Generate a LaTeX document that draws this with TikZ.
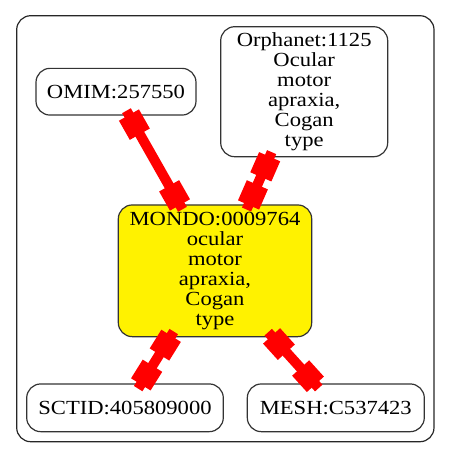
\documentclass[tikz,border=0pt]{standalone}
\usepackage{fontspec}
\setmainfont{Liberation Serif}[FakeStretch=1.13]
\usetikzlibrary{calc}
\tikzset{
  ent/.style={draw=black!80, line width=1.2pt, rounded corners=14pt, inner sep=0pt, outer sep=0pt,
    align=center, font=\fontsize{20}{20}\selectfont},
  conn/.style={draw=red, line width=10pt},
  endbox/.style={fill=red, draw=none, rectangle, inner sep=0pt, minimum width=22pt, minimum height=23pt, sloped, allow upside down}
}
\begin{document}
\begin{tikzpicture}[x=1pt,y=-1pt]
\useasboundingbox (0,0) rectangle (451,459);
\draw[black!85, line width=1.2pt, rounded corners=14pt] (16.7,15.7) rectangle (434,441.7);
\node[ent, minimum width=160pt, minimum height=46.7pt] (omim) at (116,91.7) {OMIM:257550};
\node[ent, minimum width=167pt, minimum height=130pt] (orph) at (304.2,91.7) {Orphanet:1125\\Ocular\\motor\\apraxia,\\Cogan\\type};
\node[ent, fill=yellow, minimum width=193.4pt, minimum height=131.7pt] (mondo) at (215,270.8) {MONDO:0009764\\ocular\\motor\\apraxia,\\Cogan\\type};
\node[ent, minimum width=196.6pt, minimum height=47.7pt] (sctid) at (125,407.8) {SCTID:405809000};
\node[ent, minimum width=177pt, minimum height=47.7pt] (mesh) at (335.8,407.8) {MESH:C537423};
\draw[conn] ($(omim.299.9)!-5pt!(mondo.118.8)$) -- ($(mondo.118.8)!-5pt!(omim.299.9)$)
  node[endbox, at start, anchor=west] (b1a) {} node[endbox, at end, anchor=east] (b1b) {};
\draw[conn] ($(orph.242.9)!-5pt!(mondo.63.5)$) -- ($(mondo.63.5)!-5pt!(orph.242.9)$)
  node[endbox, at start, anchor=west] (b2a) {} node[endbox, at end, anchor=east] (b2b) {};
\draw[conn] ($(mondo.236.7)!-6pt!(sctid.56.7)$) -- ($(sctid.56.7)!-5.5pt!(mondo.236.7)$)
  node[endbox, at start, anchor=west] (b3a) {} node[endbox, at end, anchor=east] (b3b) {};
\draw[conn] ($(mondo.311.5)!-6pt!(mesh.131.5)$) -- ($(mesh.131.5)!-5.5pt!(mondo.311.5)$)
  node[endbox, at start, anchor=west] (b4a) {} node[endbox, at end, anchor=east] (b4b) {};
\end{tikzpicture}
\end{document}
